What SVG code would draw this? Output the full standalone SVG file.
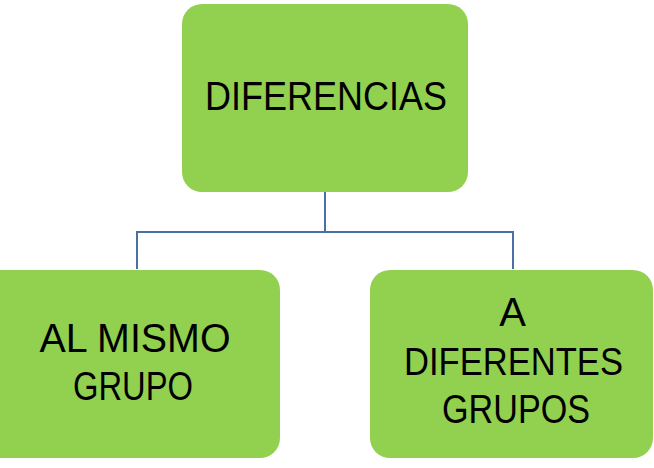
<svg xmlns="http://www.w3.org/2000/svg" width="654" height="468" viewBox="0 0 654 468">
<style>
.box{fill:#92D050;}
.lbl{font-family:"Liberation Sans",Arial,sans-serif;font-size:40px;fill:#000;text-anchor:middle;}
.conn{fill:none;stroke:#4A6FA5;stroke-width:2;}
</style>
<rect width="654" height="468" fill="#fff"/>
<g id="connectors">
<path class="conn" d="M325 192 V232 M137 232 H513 M137 231 V269 M513 231 V269"/>
</g>
<g id="node-diferencias">
<rect class="box" x="182" y="4" width="286" height="188" rx="20" ry="20"/>
<text class="lbl" x="326" y="110" textLength="242" lengthAdjust="spacingAndGlyphs">DIFERENCIAS</text>
</g>
<g id="node-mismo">
<rect class="box" x="-20" y="270" width="300" height="188" rx="20" ry="20"/>
<text class="lbl" x="135" y="352" textLength="191" lengthAdjust="spacingAndGlyphs">AL MISMO</text>
<text class="lbl" x="133" y="400" textLength="120" lengthAdjust="spacingAndGlyphs">GRUPO</text>
</g>
<g id="node-diferentes">
<rect class="box" x="370" y="270" width="283" height="188" rx="20" ry="20"/>
<text class="lbl" x="512.5" y="326">A</text>
<text class="lbl" x="513.5" y="375" style="font-size:38px" textLength="219" lengthAdjust="spacingAndGlyphs">DIFERENTES</text>
<text class="lbl" x="516" y="423" textLength="148" lengthAdjust="spacingAndGlyphs">GRUPOS</text>
</g>
</svg>
